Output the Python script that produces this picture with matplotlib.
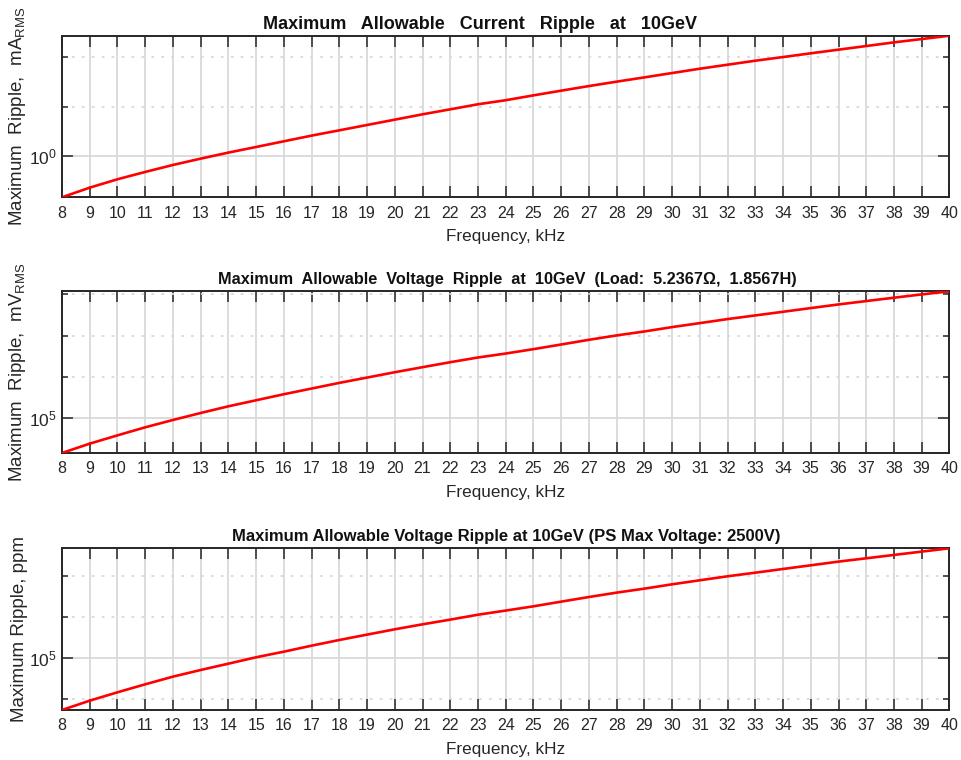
import matplotlib
matplotlib.use("Agg")
import matplotlib.pyplot as plt
from matplotlib.ticker import FixedLocator, NullFormatter

# ---------------- data ----------------
freq_khz = [8, 9, 10, 11, 12, 13, 14, 15, 16, 17, 18, 19, 20, 21, 22, 23, 24,
            25, 26, 27, 28, 29, 30, 31, 32, 33, 34, 35, 36, 37, 38, 39, 40]

current_ripple_mA = [0.146, 0.229, 0.338, 0.475, 0.658, 0.883, 1.17, 1.52, 1.98,
                     2.58, 3.30, 4.23, 5.42, 6.95, 8.77, 11.1, 13.4, 16.8, 20.9,
                     25.9, 31.8, 38.8, 47.5, 58.1, 70.0, 84.3, 100, 119, 141,
                     167, 198, 231, 270]

voltage_ripple_mV = [1.41e4, 2.38e4, 3.78e4, 5.93e4, 8.93e4, 1.32e5, 1.92e5,
                     2.69e5, 3.77e5, 5.18e5, 7.11e5, 9.57e5, 1.29e6, 1.71e6,
                     2.26e6, 2.94e6, 3.67e6, 4.69e6, 6.08e6, 7.91e6, 1.01e7,
                     1.26e7, 1.61e7, 2.01e7, 2.52e7, 3.09e7, 3.79e7, 4.66e7,
                     5.71e7, 6.90e7, 8.32e7, 1.00e8, 1.19e8]

voltage_ripple_ppm = [5.53e3, 9.33e3, 1.49e4, 2.33e4, 3.58e4, 5.20e4, 7.41e4,
                      1.06e5, 1.45e5, 2.03e5, 2.79e5, 3.77e5, 5.08e5, 6.71e5,
                      8.73e5, 1.15e6, 1.45e6, 1.84e6, 2.39e6, 3.10e6, 3.96e6,
                      4.95e6, 6.31e6, 7.91e6, 9.89e6, 1.21e7, 1.49e7, 1.83e7,
                      2.25e7, 2.71e7, 3.27e7, 3.94e7, 4.74e7]

titles = ["Maximum   Allowable   Current   Ripple   at   10GeV",
          "Maximum  Allowable  Voltage  Ripple  at  10GeV  (Load:  5.2367\u03a9,  1.8567H)",
          "Maximum Allowable Voltage Ripple at 10GeV (PS Max Voltage: 2500V)"]
ylabels = [r"Maximum  Ripple,  $\mathregular{mA_{RMS}}$",
           r"Maximum  Ripple,  $\mathregular{mV_{RMS}}$",
           "Maximum Ripple, ppm"]
xlabel = "Frequency, kHz"

major_y = [[1e0], [1e5], [1e5]]
major_y_labels = [[r"$\mathregular{10^{0}}$"], [r"$\mathregular{10^{5}}$"], [r"$\mathregular{10^{5}}$"]]
minor_y = [[1e1, 1e2], [1e6, 1e7, 1e8], [1e4, 1e6, 1e7]]

series = [current_ripple_mA, voltage_ripple_mV, voltage_ripple_ppm]

# ---------------- style ----------------
fam = "Liberation Sans"
plt.rcParams["font.family"] = [fam, "DejaVu Sans"]
plt.rcParams["mathtext.fontset"] = "custom"
plt.rcParams["mathtext.rm"] = fam

dark = "#262626"
gridc = "#d9d9d9"

fig = plt.figure(figsize=(9.62, 7.60), dpi=100)
W, H = 962, 760
left_px, right_px = 62, 949.5
tops = [35.7, 291.3, 548.3]
bots = [197.3, 453.0, 710.0]
title_x = [0.471, 0.502, 0.501]
title_size = [13.0, 11.7, 12.0]

for i in range(3):
    ax = fig.add_axes([left_px / W, 1 - bots[i] / H,
                       (right_px - left_px) / W, (bots[i] - tops[i]) / H])
    ax.semilogy(freq_khz, series[i], color="#ff0000", lw=1.9, zorder=3)
    ax.set_xlim(min(freq_khz), max(freq_khz))
    ax.set_ylim(min(series[i]), max(series[i]))
    ax.set_xticks(freq_khz)
    ax.set_xticklabels([str(f) for f in freq_khz])
    ax.yaxis.set_major_locator(FixedLocator(major_y[i]))
    ax.set_yticklabels(major_y_labels[i])
    ax.yaxis.set_minor_locator(FixedLocator(minor_y[i]))
    ax.yaxis.set_minor_formatter(NullFormatter())
    ax.xaxis.set_minor_locator(FixedLocator([]))

    ax.grid(True, which="major", color=gridc, lw=1.3, ls="-", zorder=0)
    ax.grid(True, which="minor", axis="y", color=gridc, lw=1.3,
            ls=(0, (1.5, 4)), zorder=0)
    ax.set_axisbelow(True)

    ax.tick_params(axis="both", which="major", direction="in", length=8,
                   width=1.1, color=dark, top=True, right=True,
                   labelsize=11.5, labelcolor=dark, pad=6)
    ax.tick_params(axis="y", which="major", labelsize=12.5, pad=4)
    ax.tick_params(axis="y", which="minor", direction="in", length=4.5,
                   width=1.1, color=dark, right=True, left=True)
    for sp in ax.spines.values():
        sp.set_color(dark)
        sp.set_linewidth(1.4)

    ax.set_xlabel(xlabel, fontsize=12.3, color=dark, labelpad=6)
    ax.set_ylabel(ylabels[i], fontsize=13.5, color=dark)
    ax.yaxis.set_label_coords(-0.038, 0.5)
    ax.set_title(titles[i], fontsize=title_size[i], fontweight="bold",
                 color="#111111", x=title_x[i], pad=5)

fig.savefig("out.png", dpi=100)
